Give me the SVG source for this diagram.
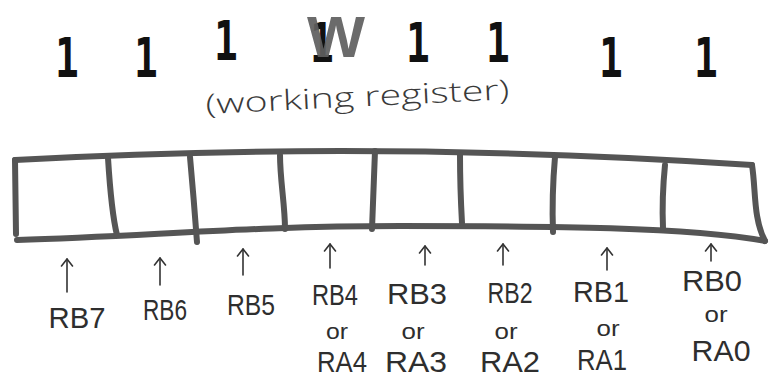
<svg xmlns="http://www.w3.org/2000/svg" width="771" height="378" viewBox="0 0 771 378">
  <style>
    .bit { font-family: "DejaVu Sans Mono", "Liberation Mono", monospace; font-weight: bold; font-size: 55px; fill: #111; text-anchor: middle; }
    .wreg { font-family: "Liberation Sans", Arial, sans-serif; font-weight: bold; font-size: 58px; fill: #5e5e5e; fill-opacity: 0.92; }
    .note { font-family: "Open Sans", "Liberation Sans", sans-serif; font-weight: 300; fill: #3a3a3a; }
    .pin { font-family: "Liberation Sans", Arial, sans-serif; font-size: 30px; fill: #2e2e2e; text-anchor: middle; }
    .or { font-family: "Liberation Sans", Arial, sans-serif; font-size: 22px; fill: #2e2e2e; text-anchor: middle; }
    .edge { fill: none; stroke: #555; stroke-width: 6; stroke-linecap: round; stroke-linejoin: round; }
    .arrow { fill: none; stroke: #333; stroke-width: 1.6; stroke-linecap: round; marker-end: url(#chev); }
  </style>
  <defs>
    <marker id="chev" viewBox="-10 -8 12 16" refX="0" refY="0" markerWidth="12" markerHeight="16" markerUnits="userSpaceOnUse" orient="auto">
      <path d="M-7,-5.5 L0,0 L-7,5.5" fill="none" stroke="#333" stroke-width="1.6" stroke-linecap="round" stroke-linejoin="round"/>
    </marker>
  </defs>

  <!-- bit values held in the register -->
  <g id="bits">
    <text class="bit" transform="translate(67,77) scale(0.72,1)">1</text>
    <text class="bit" transform="translate(146,77) scale(0.72,1)">1</text>
    <text class="bit" transform="translate(226,60) scale(0.72,1)">1</text>
    <text class="bit" transform="translate(322,62) scale(0.72,1)">1</text>
    <text class="bit" transform="translate(418,62) scale(0.72,1)">1</text>
    <text class="bit" transform="translate(498,62) scale(0.72,1)">1</text>
    <text class="bit" transform="translate(611,77) scale(0.72,1)">1</text>
    <text class="bit" transform="translate(706,77) scale(0.72,1)">1</text>
  </g>

  <!-- register name -->
  <g id="wlabel">
    <text class="wreg" x="307" y="57" textLength="58" lengthAdjust="spacingAndGlyphs">W</text>
    <text class="note" font-size="28" transform="translate(206,114) rotate(-2.8)" textLength="304" lengthAdjust="spacingAndGlyphs">(working register)</text>
  </g>

  <!-- eight-cell register box -->
  <g id="register">
    <path class="edge" d="M15,160 Q380,140 752,165"/>
    <path class="edge" d="M17,240 C150,236 250,226 400,226 S690,227 765,241"/>
    <path class="edge" d="M15,160 L16,234"/>
    <path class="edge" d="M752,165 C756,190 753,218 765,241"/>
    <path class="edge" d="M108,158 C110,190 112,215 117,235"/>
    <path class="edge" d="M190,157 C193,190 195,215 197,242"/>
    <path class="edge" d="M280,155 C280,180 285,205 285,229"/>
    <path class="edge" d="M375,151 C374,180 373,205 372,229"/>
    <path class="edge" d="M460,155 C460,180 461,205 462,223"/>
    <path class="edge" d="M555,157 C553,180 552,205 553,232"/>
    <path class="edge" d="M665,165 C663,185 662,205 663,228"/>
  </g>

  <!-- pointers from pin names to cells -->
  <g id="connectors">
    <line class="arrow" x1="67" y1="292" x2="67" y2="259"/>
    <line class="arrow" x1="160" y1="285" x2="160" y2="258"/>
    <line class="arrow" x1="243" y1="275" x2="243" y2="249"/>
    <line class="arrow" x1="330" y1="268" x2="330" y2="244"/>
    <line class="arrow" x1="425" y1="265" x2="425" y2="246"/>
    <line class="arrow" x1="503" y1="265" x2="503" y2="244"/>
    <line class="arrow" x1="607" y1="270" x2="607" y2="248"/>
    <line class="arrow" x1="711" y1="261" x2="711" y2="244"/>
  </g>

  <!-- port pin names -->
  <g id="pin-rb7"><text class="pin" x="77" y="328" textLength="57" lengthAdjust="spacingAndGlyphs">RB7</text></g>
  <g id="pin-rb6"><text class="pin" x="165" y="320" textLength="44" lengthAdjust="spacingAndGlyphs">RB6</text></g>
  <g id="pin-rb5"><text class="pin" x="251" y="315" textLength="48" lengthAdjust="spacingAndGlyphs">RB5</text></g>
  <g id="pin-4">
    <text class="pin" x="335" y="305" textLength="46" lengthAdjust="spacingAndGlyphs">RB4</text>
    <text class="or" x="337" y="339" textLength="22" lengthAdjust="spacingAndGlyphs">or</text>
    <text class="pin" x="342" y="372" textLength="50" lengthAdjust="spacingAndGlyphs">RA4</text>
  </g>
  <g id="pin-3">
    <text class="pin" x="417" y="304" textLength="60" lengthAdjust="spacingAndGlyphs">RB3</text>
    <text class="or" x="413" y="339" textLength="23" lengthAdjust="spacingAndGlyphs">or</text>
    <text class="pin" x="416" y="372" textLength="62" lengthAdjust="spacingAndGlyphs">RA3</text>
  </g>
  <g id="pin-2">
    <text class="pin" x="510" y="303" textLength="45" lengthAdjust="spacingAndGlyphs">RB2</text>
    <text class="or" x="506" y="339" textLength="23" lengthAdjust="spacingAndGlyphs">or</text>
    <text class="pin" x="510" y="372" textLength="60" lengthAdjust="spacingAndGlyphs">RA2</text>
  </g>
  <g id="pin-1">
    <text class="pin" x="601" y="302" textLength="56" lengthAdjust="spacingAndGlyphs">RB1</text>
    <text class="or" x="608" y="336" textLength="23" lengthAdjust="spacingAndGlyphs">or</text>
    <text class="pin" x="602" y="370" textLength="50" lengthAdjust="spacingAndGlyphs">RA1</text>
  </g>
  <g id="pin-0">
    <text class="pin" x="712" y="291" textLength="60" lengthAdjust="spacingAndGlyphs">RB0</text>
    <text class="or" x="716" y="322" textLength="23" lengthAdjust="spacingAndGlyphs">or</text>
    <text class="pin" x="721" y="361" textLength="59" lengthAdjust="spacingAndGlyphs">RA0</text>
  </g>
</svg>
